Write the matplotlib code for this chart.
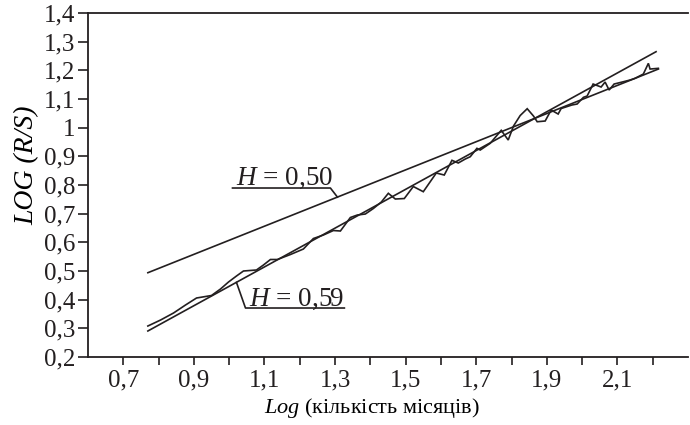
import matplotlib
matplotlib.use("Agg")
import matplotlib.pyplot as plt
from matplotlib.ticker import FixedLocator, FuncFormatter

# R/S analysis: log of rescaled range against log of the number of months
log_months = [0.7696, 0.8056, 0.8424, 0.8763, 0.9075, 0.9499, 0.9754, 0.9981,
              1.0207, 1.0405, 1.0773, 1.0971, 1.1169, 1.1367, 1.1735, 1.2103,
              1.2386, 1.2669, 1.2952, 1.3151, 1.3434, 1.3632, 1.3858, 1.4085,
              1.4311, 1.4509, 1.4707, 1.4962, 1.5217, 1.5500, 1.5868, 1.6094,
              1.6312, 1.6490, 1.6689, 1.6830, 1.7020, 1.7113, 1.7396, 1.7708,
              1.7906, 1.8056, 1.8245, 1.8444, 1.8622, 1.8727, 1.8953, 1.9123,
              1.9321, 1.9406, 1.9709, 1.9859, 2.0037, 2.0142, 2.0312, 2.0538,
              2.0651, 2.0765, 2.0906, 2.1169, 2.1359, 2.1500, 2.1735, 2.1877,
              2.1925, 2.2160]
log_rs = [0.3081, 0.3290, 0.3535, 0.3814, 0.4058, 0.4145, 0.4372, 0.4616,
          0.4825, 0.5000, 0.5035, 0.5209, 0.5401, 0.5401, 0.5575, 0.5767,
          0.6133, 0.6255, 0.6412, 0.6395, 0.6866, 0.6953, 0.6988, 0.7180,
          0.7406, 0.7710, 0.7511, 0.7528, 0.7947, 0.7766, 0.8418, 0.8348,
          0.8861, 0.8767, 0.8906, 0.8986, 0.9279, 0.9220, 0.9454, 0.9907,
          0.9569, 1.0057, 1.0423, 1.0661, 1.0406, 1.0207, 1.0232, 1.0615,
          1.0476, 1.0668, 1.0790, 1.0825, 1.1058, 1.1104, 1.1522, 1.1418,
          1.1592, 1.1313, 1.1522, 1.1602, 1.1662, 1.1721, 1.1871, 1.2244,
          1.2045, 1.2070]

# Fitted regression lines (end points)
fit50_x = [0.7696, 2.2160]
fit50_y = [0.4940, 1.2045]
fit59_x = [0.7696, 2.2095]
fit59_y = [0.2907, 1.2650]
hurst_values = ["0,50", "0,59"]

# Axis ticks
x_major = [0.7, 0.9, 1.1, 1.3, 1.5, 1.7, 1.9, 2.1]
x_minor = [0.8, 1.0, 1.2, 1.4, 1.6, 1.8, 2.0, 2.2]
y_ticks = [0.2, 0.3, 0.4, 0.5, 0.6, 0.7, 0.8, 0.9, 1.0, 1.1, 1.2, 1.3, 1.4]

ink = "#231f20"
serif = "Liberation Serif"
plt.rcParams.update({
    "font.family": [serif, "DejaVu Serif"],
    "mathtext.fontset": "custom",
    "mathtext.rm": serif,
    "mathtext.it": serif + ":italic",
    "text.color": ink,
    "axes.edgecolor": ink,
    "xtick.color": ink,
    "ytick.color": ink,
})

fs_tick = 18
fs_note = 19.5
lw = 1.2

fig = plt.figure(figsize=(6.9, 4.25), dpi=100)
ax = fig.add_axes([88 / 690, 68 / 425, 600 / 690, 344 / 425])

ax.plot(log_months, log_rs, color=ink, lw=lw, solid_joinstyle="miter")
ax.plot(fit50_x, fit50_y, color=ink, lw=lw)
ax.plot(fit59_x, fit59_y, color=ink, lw=lw)

ax.set_xlim(0.6, 2.3)
ax.set_ylim(0.2, 1.4)

ax.spines["right"].set_visible(False)
for s in ("left", "bottom", "top"):
    ax.spines[s].set_linewidth(1.3)

comma = FuncFormatter(lambda v, p: f"{v:g}".replace(".", ","))
ax.xaxis.set_major_locator(FixedLocator(x_major))
ax.xaxis.set_minor_locator(FixedLocator(x_minor))
ax.xaxis.set_major_formatter(comma)
ax.yaxis.set_major_locator(FixedLocator(y_ticks))
ax.yaxis.set_major_formatter(comma)
ax.tick_params(axis="both", which="both", direction="out", width=1.2,
               labelsize=fs_tick)
ax.tick_params(axis="x", which="both", length=6, pad=3)
ax.tick_params(axis="y", which="both", length=7, pad=2)

ax.set_xlabel(r"$\mathit{Log}$ (кількість місяців)", fontsize=16, va="center")
ax.xaxis.set_label_coords(0.4725, -0.148)
ax.set_ylabel("LOG (R/S)", fontsize=20, style="italic", va="center")
ax.yaxis.set_label_coords(-0.1017, 0.558)

# Labels with leader lines for the two fitted slopes
ax.text(1.018, 0.800, r"$\mathit{H}$ = " + hurst_values[0], fontsize=fs_note,
        ha="left", va="baseline")
ax.plot([1.0094, 1.2868, 1.3066], [0.7895, 0.7895, 0.7580], color=ink, lw=lw)

ax.text(1.055, 0.378, r"$\mathit{H}$ = " + hurst_values[1], fontsize=fs_note,
        ha="left", va="baseline")
ax.plot([1.0207, 1.0462, 1.3264], [0.4600, 0.3709, 0.3709], color=ink, lw=lw)

fig.savefig("out.png", dpi=100)
